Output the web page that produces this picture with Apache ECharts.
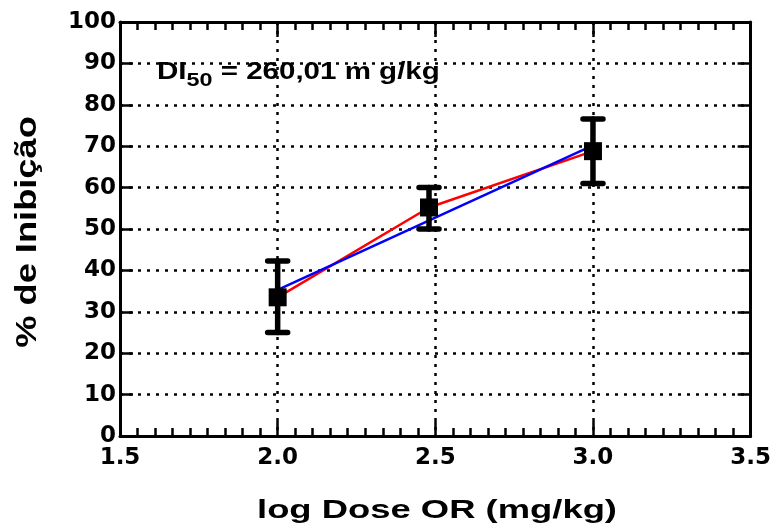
<!DOCTYPE html>
<html><head><meta charset="utf-8">
<script src="https://cdn.jsdelivr.net/npm/echarts@6/dist/echarts.min.js"></script>
<style>html,body{margin:0;padding:0;background:#fff}#c{width:774px;height:531px}</style>
</head><body><div id="c"></div>
<script>
const logDose = [2.0, 2.48, 3.0];
const meanInhib = [33.5, 55.2, 68.8];
const errLow = [25.0, 50.0, 61.0];
const errHigh = [42.3, 60.0, 76.6];
const redFit = [33.5, 55.2, 68.8];
const blueFitX = [2.0, 3.0];
const blueFit = [35.3, 70.2];
const xTicks = [1.5, 2.0, 2.5, 3.0, 3.5];
const yTicks = [0,10,20,30,40,50,60,70,80,90,100];
const xTitle = 'log Dose OR (mg/kg)';
const yTitle = '% de Inibição';

const FONT = '"Liberation Sans", Arial, sans-serif';
const TICKFONT = '"DejaVu Sans", sans-serif';
const chart = echarts.init(document.getElementById('c'), null, {renderer:'canvas'});
const dotted = {color:'#000', width:2.5, type:[3,6]};
const baseX = {
  type:'value', min:xTicks[0], max:xTicks[xTicks.length-1], interval:0.5,
  axisLine:{onZero:false, lineStyle:{color:'#000', width:3}},
};
const baseY = {
  type:'value', min:yTicks[0], max:yTicks[yTicks.length-1], interval:10,
  axisLine:{onZero:false, lineStyle:{color:'#000', width:3}},
};
chart.setOption({
  animation:false,
  grid:{left:120, right:22, top:22, bottom:95},
  xAxis:[
    Object.assign({}, baseX, {
      position:'bottom',
      axisTick:{inside:true, length:15, lineStyle:{color:'#000', width:2.5}},
      minorTick:{show:true, splitNumber:9, length:8, lineStyle:{color:'#000', width:2.5}},
      axisLabel:{fontFamily:TICKFONT, fontWeight:'bold', fontSize:23, color:'#000', margin:11,
        formatter:v=>v.toFixed(1)},
      splitLine:{show:true, lineStyle:dotted}
    }),
    Object.assign({}, baseX, {
      position:'top',
      axisTick:{inside:true, length:15, lineStyle:{color:'#000', width:2.5}},
      minorTick:{show:true, splitNumber:9, length:8, lineStyle:{color:'#000', width:2.5}},
      axisLabel:{show:false}, splitLine:{show:false}
    })
  ],
  yAxis:[
    Object.assign({}, baseY, {
      position:'left',
      axisTick:{inside:true, length:13, lineStyle:{color:'#000', width:2.5}},
      axisLabel:{fontFamily:TICKFONT, fontWeight:'bold', fontSize:23, color:'#000', margin:4},
      splitLine:{show:true, lineStyle:dotted}
    }),
    Object.assign({}, baseY, {
      position:'right',
      axisTick:{inside:true, length:13, lineStyle:{color:'#000', width:2.5}},
      axisLabel:{show:false}, splitLine:{show:false}
    })
  ],
  graphic:[
    {
      type:'text', x:157, y:60, scaleX:1.23, z:100,
      style:{
        text:'{a|DI}{s|50}{a| = 260,01 m g/kg}',
        textVerticalAlign:'top',
        rich:{
          a:{fontFamily:FONT, fontWeight:'bold', fontSize:24, fill:'#000', lineHeight:30, verticalAlign:'top'},
          s:{fontFamily:FONT, fontWeight:'bold', fontSize:19, fill:'#000', lineHeight:30, padding:[11,0,0,0], verticalAlign:'top'}
        }
      }
    },
    {
      type:'text', x:437, y:511, scaleX:1.4, z:100,
      style:{text:xTitle, font:'bold 26px ' + FONT, fill:'#000', textAlign:'center', textVerticalAlign:'middle'}
    },
    {
      type:'text', x:28, y:232, rotation:Math.PI/2, scaleX:1.25, z:100,
      style:{text:yTitle, font:'bold 29px ' + FONT, fill:'#000', textAlign:'center', textVerticalAlign:'middle'}
    }
  ],
  series:[
    {
      type:'line', data:logDose.map((x,i)=>[x, redFit[i]]), showSymbol:false, symbol:'none',
      lineStyle:{color:'#ff0000', width:2.5}, z:3
    },
    {
      type:'line', data:blueFitX.map((x,i)=>[x, blueFit[i]]), showSymbol:false, symbol:'none',
      lineStyle:{color:'#0000ff', width:2.5}, z:4
    },
    {
      type:'custom', z:5,
      data:logDose.map((x,i)=>[x, errLow[i], errHigh[i]]),
      renderItem:(params, api)=>{
        const lo = api.coord([api.value(0), api.value(1)]);
        const hi = api.coord([api.value(0), api.value(2)]);
        const cw = 10;
        const st = {stroke:'#000', lineWidth:5.5, lineCap:'round'};
        return {type:'group', children:[
          {type:'line', shape:{x1:lo[0], y1:lo[1], x2:hi[0], y2:hi[1]}, style:st},
          {type:'line', shape:{x1:lo[0]-cw, y1:lo[1], x2:lo[0]+cw, y2:lo[1]}, style:st},
          {type:'line', shape:{x1:hi[0]-cw, y1:hi[1], x2:hi[0]+cw, y2:hi[1]}, style:st}
        ]};
      }
    },
    {
      type:'scatter', z:6, data:logDose.map((x,i)=>[x, meanInhib[i]]),
      symbol:'rect', symbolSize:18, itemStyle:{color:'#000', opacity:1}
    }
  ]
});
</script></body></html>
